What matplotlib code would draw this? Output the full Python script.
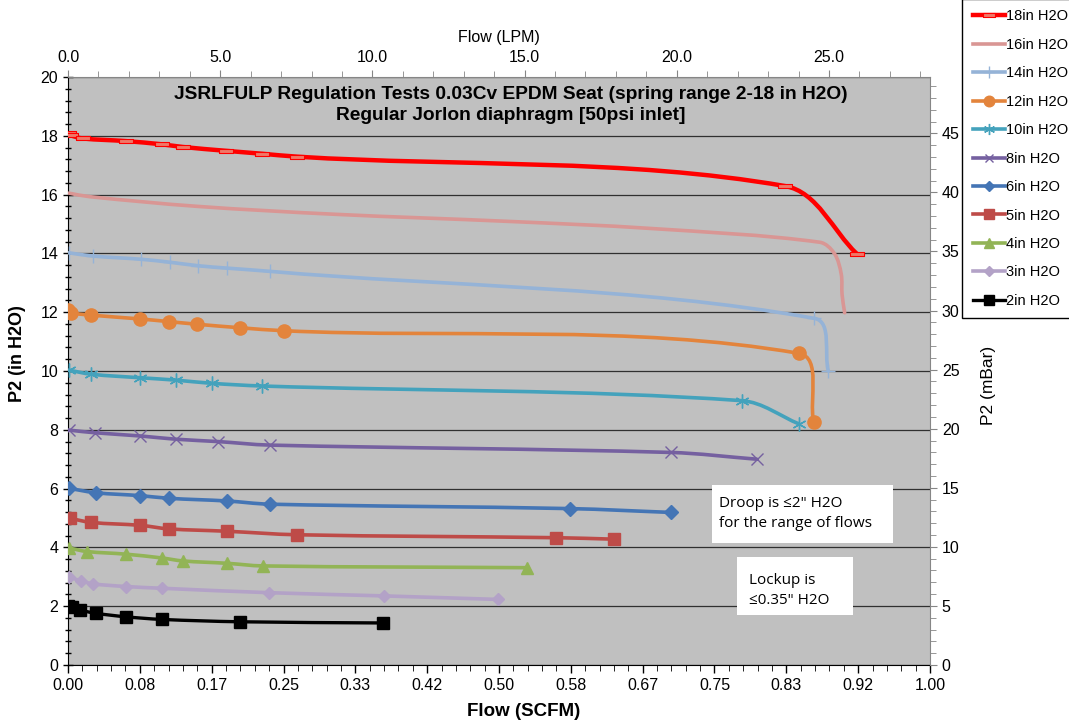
import numpy as np
import matplotlib
matplotlib.use("Agg")
import matplotlib.pyplot as plt
from matplotlib.path import Path
from matplotlib.patches import PathPatch, Rectangle
from matplotlib.lines import Line2D
from matplotlib.ticker import MultipleLocator, FormatStrFormatter

plt.rcParams['font.family'] = ['Liberation Sans', 'DejaVu Sans']

# flow (SCFM) / P2 (in H2O)
x18 = [0.001, 0.003, 0.017, 0.067, 0.109, 0.133, 0.183, 0.225, 0.266, 0.832, 0.915]
y18 = [18.08, 18.02, 17.91, 17.82, 17.71, 17.62, 17.49, 17.39, 17.29, 16.29, 13.99]
x16 = [0.001, 0.025, 0.15, 0.31, 0.51, 0.675, 0.872, 0.889, 0.897, 0.898, 0.901]
y16 = [16.05, 15.93, 15.60, 15.33, 15.09, 14.85, 14.38, 14.00, 13.30, 12.60, 11.98]
x14 = [0.001, 0.029, 0.085, 0.118, 0.151, 0.184, 0.234, 0.866, 0.882]
y14 = [14.02, 13.91, 13.80, 13.70, 13.58, 13.50, 13.39, 11.79, 10.00]
x12 = [0.0004, 0.003, 0.027, 0.084, 0.117, 0.150, 0.200, 0.250, 0.848, 0.865]
y12 = [12.07, 11.98, 11.90, 11.77, 11.68, 11.59, 11.47, 11.37, 10.60, 8.28]
x10 = [0.001, 0.027, 0.084, 0.125, 0.167, 0.225, 0.782, 0.848]
y10 = [10.03, 9.89, 9.77, 9.69, 9.58, 9.49, 8.99, 8.20]
x8 = [0.001, 0.031, 0.084, 0.125, 0.174, 0.234, 0.699, 0.799]
y8 = [7.99, 7.90, 7.79, 7.68, 7.60, 7.48, 7.23, 7.00]
x6 = [0.001, 0.032, 0.084, 0.117, 0.184, 0.234, 0.582, 0.699]
y6 = [6.01, 5.86, 5.76, 5.67, 5.58, 5.47, 5.32, 5.19]
x5 = [0.002, 0.027, 0.084, 0.117, 0.184, 0.266, 0.566, 0.633]
y5 = [4.99, 4.85, 4.75, 4.63, 4.55, 4.43, 4.33, 4.28]
x4 = [0.001, 0.022, 0.067, 0.109, 0.133, 0.184, 0.226, 0.532]
y4 = [3.98, 3.86, 3.77, 3.64, 3.54, 3.46, 3.37, 3.31]
x3 = [0.001, 0.015, 0.029, 0.067, 0.109, 0.233, 0.367, 0.499]
y3 = [3.00, 2.86, 2.76, 2.67, 2.61, 2.46, 2.35, 2.23]
x2 = [0.0, 0.005, 0.014, 0.032, 0.067, 0.109, 0.200, 0.366]
y2 = [2.00, 1.97, 1.87, 1.76, 1.64, 1.55, 1.47, 1.43]

labels = ['18in H2O', '16in H2O', '14in H2O', '12in H2O', '10in H2O', '8in H2O',
          '6in H2O', '5in H2O', '4in H2O', '3in H2O', '2in H2O']

LPM_PER_SCFM = 28.317
MBAR_PER_INH2O = 2.4884

rect = [(-1, -0.35), (1, -0.35), (1, 0.35), (-1, 0.35), (-1, -0.35)]
series = [
    (x18, y18, '#FF0000', 3.2, dict(marker=rect, ms=10, mfc='#F07868', mec='#FF0000', mew=0.8)),
    (x16, y16, '#D99694', 2.6, dict(marker=None)),
    (x14, y14, '#95B3D7', 2.6, dict(marker='+', ms=10, mec='#95B3D7', mew=1.0)),
    (x12, y12, '#E3843C', 2.6, dict(marker='o', ms=9.5, mfc='#E3843C', mec='#E3843C')),
    (x10, y10, '#44A2BC', 2.6, dict(marker=(6, 2, 0), ms=10, mec='#44A2BC', mew=1.0)),
    (x8, y8, '#7560A0', 2.6, dict(marker='x', ms=8, mec='#7560A0', mew=1.0)),
    (x6, y6, '#4475B5', 2.6, dict(marker='D', ms=7, mfc='#4475B5', mec='#4475B5')),
    (x5, y5, '#BE4B48', 2.6, dict(marker='s', ms=8.5, mfc='#BE4B48', mec='#BE4B48')),
    (x4, y4, '#92B456', 2.6, dict(marker='^', ms=9, mfc='#92B456', mec='#92B456')),
    (x3, y3, '#B3A2C7', 2.6, dict(marker='D', ms=6.5, mfc='#B3A2C7', mec='#B3A2C7')),
    (x2, y2, '#000000', 2.4, dict(marker='s', ms=9, mfc='#000000', mec='#000000')),
]


def smooth_path(xs, ys, sx=862.0, sy=29.4):
    # excel-style smoothed line: bezier through the points, worked out in pixel-ish units
    p = np.column_stack([np.asarray(xs) * sx, np.asarray(ys) * sy])
    n = len(p)
    tang = []
    for i in range(n):
        a = p[max(i - 1, 0)]
        b = p[min(i + 1, n - 1)]
        d = b - a
        tang.append(d / (np.hypot(*d) + 1e-9))
    verts = [p[0]]
    codes = [Path.MOVETO]
    for i in range(n - 1):
        seg = np.hypot(*(p[i + 1] - p[i])) / 3.0
        verts += [p[i] + tang[i] * seg, p[i + 1] - tang[i + 1] * seg, p[i + 1]]
        codes += [Path.CURVE4] * 3
    verts = np.array(verts)
    verts[:, 0] /= sx
    verts[:, 1] /= sy
    return Path(verts, codes)


fig = plt.figure(figsize=(10.69, 7.23), dpi=100)
ax = fig.add_axes([68 / 1069, 58 / 723, 862 / 1069, 588 / 723])
ax.set_facecolor('#C0C0C0')
ax.set_xlim(0, 1)
ax.set_ylim(0, 20)

ax.yaxis.set_major_locator(MultipleLocator(2))
ax.yaxis.set_minor_locator(MultipleLocator(0.4))
ax.xaxis.set_major_locator(MultipleLocator(1 / 12))
ax.xaxis.set_minor_locator(MultipleLocator(1 / 60))
ax.xaxis.set_major_formatter(FormatStrFormatter('%.2f'))
ax.grid(axis='y', which='major', color='#303030', lw=0.9)
ax.set_axisbelow(True)
ax.tick_params(axis='y', which='both', direction='inout', labelsize=11.5, length=7, width=1)
ax.tick_params(axis='y', which='minor', length=5)
ax.tick_params(axis='x', which='major', direction='out', labelsize=11.5, length=6, width=1)
ax.tick_params(axis='x', which='minor', direction='out', length=4)
for s in ['top', 'right']:
    ax.spines[s].set_visible(False)

handles = []
for xs, ys, col, lw, mk in series:
    ax.add_patch(PathPatch(smooth_path(xs, ys), fc='none', ec=col, lw=lw,
                           capstyle='round', joinstyle='round', zorder=3))
    if mk.get('marker') is not None:
        ax.plot(xs, ys, ls='none', zorder=4, **mk)
    handles.append(Line2D([], [], color=col, lw=lw, **mk))

ax.text(0.514, 0.985, 'JSRLFULP Regulation Tests 0.03Cv EPDM Seat (spring range 2-18 in H2O)\n'
        'Regular Jorlon diaphragm [50psi inlet]', transform=ax.transAxes,
        ha='center', va='top', fontsize=13.8, fontweight='bold', linespacing=1.3)

# note boxes
ax.add_patch(Rectangle((0.747, 0.2075), 0.21, 0.0985, transform=ax.transAxes,
                       fc='white', ec='none', zorder=5))
ax.text(0.755, 0.258, 'Droop is \u22642" H2O\nfor the range of flows', transform=ax.transAxes,
        ha='left', va='center', fontsize=11, family=['Open Sans', 'DejaVu Sans'],
        linespacing=1.45, zorder=6)
ax.add_patch(Rectangle((0.776, 0.085), 0.135, 0.099, transform=ax.transAxes,
                       fc='white', ec='none', zorder=5))
ax.text(0.790, 0.1275, 'Lockup is\n\u22640.35" H2O', transform=ax.transAxes,
        ha='left', va='center', fontsize=11, family=['Open Sans', 'DejaVu Sans'],
        linespacing=1.45, zorder=6)

ax.set_xlabel('Flow (SCFM)', fontsize=13.5, fontweight='bold')
ax.xaxis.set_label_coords(0.528, -0.064)
fig.text(18 / 1069, 1 - 354 / 723, 'P2 (in H2O)', rotation=90, ha='center', va='center',
         fontsize=13, fontweight='bold')

# secondary axes: LPM on top, mBar on right
gray = '#868686'
axt = ax.twiny()
axt.set_xlim(0, LPM_PER_SCFM)
axt.xaxis.set_major_locator(MultipleLocator(5))
axt.xaxis.set_minor_locator(MultipleLocator(1))
axt.xaxis.set_major_formatter(FormatStrFormatter('%.1f'))
axt.tick_params(axis='x', which='both', direction='out', color=gray, labelsize=11.5)
axt.tick_params(axis='x', which='major', length=5)
axt.tick_params(axis='x', which='minor', length=4)
axt.set_xlabel('Flow (LPM)', fontsize=11.5, labelpad=6)
for s in ['left', 'right', 'bottom']:
    axt.spines[s].set_visible(False)
axt.spines['top'].set_color(gray)

axr = ax.twinx()
axr.set_ylim(0, 20 * MBAR_PER_INH2O)
axr.yaxis.set_major_locator(MultipleLocator(5))
axr.yaxis.set_minor_locator(MultipleLocator(1))
axr.tick_params(axis='y', which='both', direction='out', color=gray, labelsize=11.5)
axr.tick_params(axis='y', which='major', length=5)
axr.tick_params(axis='y', which='minor', length=4)
for s in ['left', 'top', 'bottom']:
    axr.spines[s].set_visible(False)
axr.spines['right'].set_color(gray)
fig.text(988 / 1069, 1 - 385 / 723, 'P2 (mBar)', rotation=90, ha='center', va='center',
         fontsize=12.5)

fig.legend(handles, labels, loc='upper left', bbox_to_anchor=(962 / 1069, 1.0014),
           bbox_transform=fig.transFigure, fontsize=10.5, frameon=True, fancybox=False,
           edgecolor='black', framealpha=1, borderaxespad=0, borderpad=0.72,
           labelspacing=0.99, handlelength=2.2, handletextpad=0.1, markerscale=0.8)

fig.savefig('out.png', dpi=100)
